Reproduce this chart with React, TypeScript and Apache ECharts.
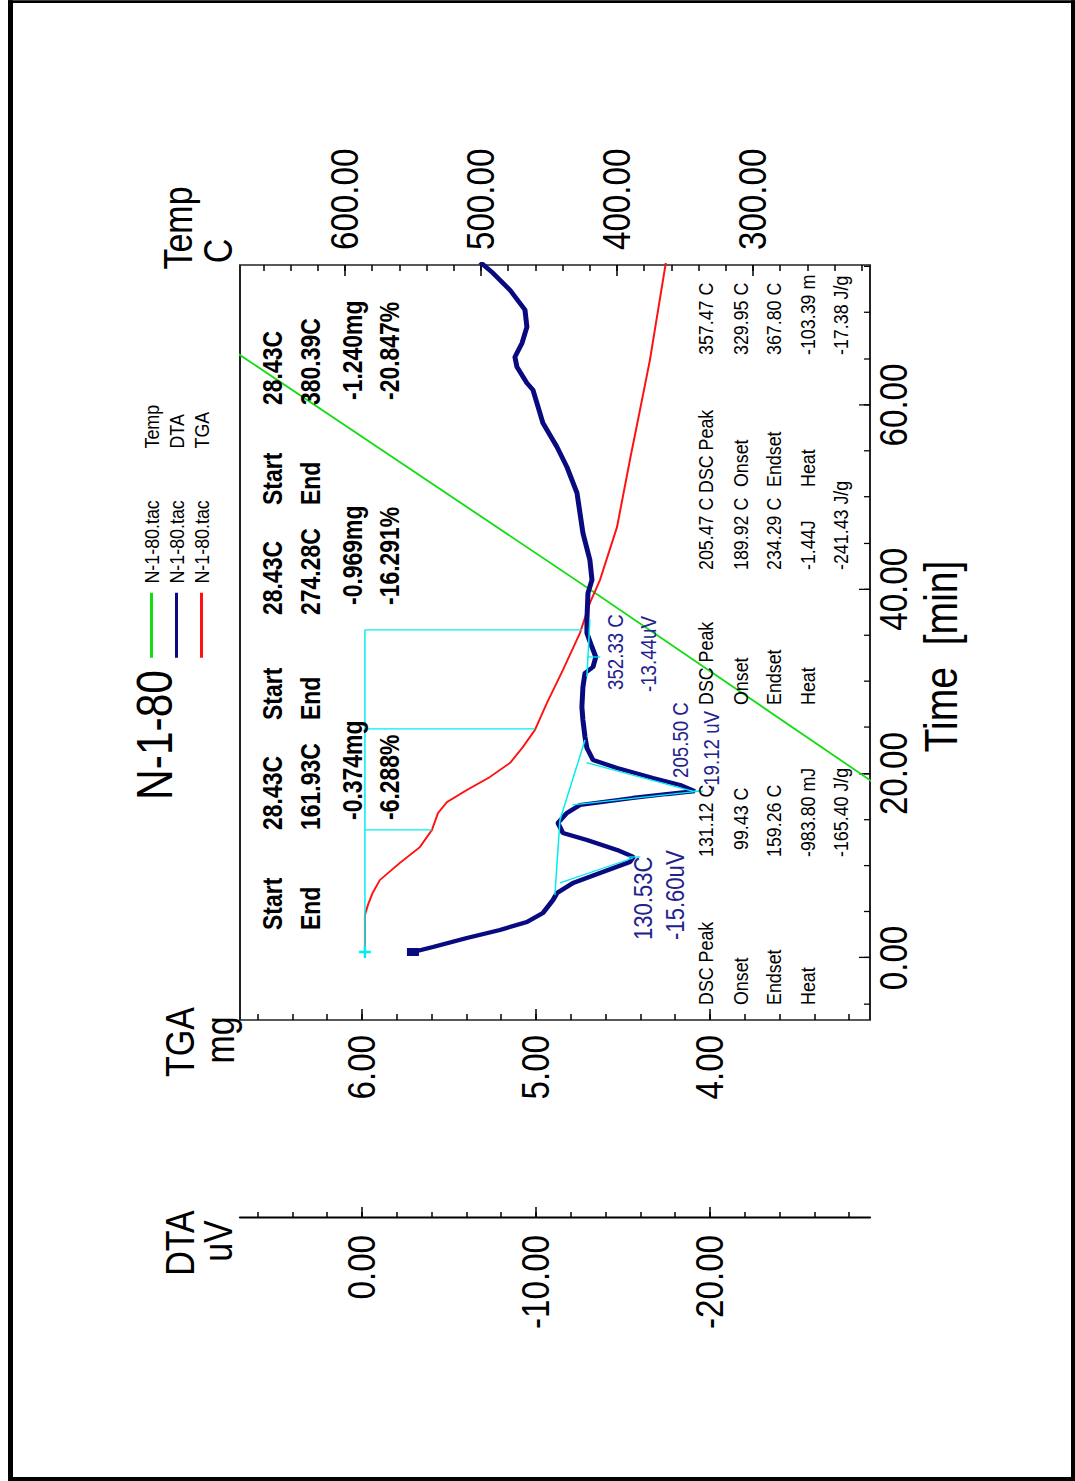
import React, { useEffect, useRef } from "react";
import * as echarts from "echarts";

// The printout is horizontally condensed: the chart is drawn wider and squeezed by S.
const S = 0.85;
const sx = (v: number) => v / S;
const FONT = "'Liberation Sans', Arial, sans-serif";

// ---- axes ----
const TIME_MIN = -6.73;
const TIME_MAX = 75.19;
const timeMajor = [0, 20, 40, 60];
const timeMinor = [-5, 0, 5, 10, 15, 20, 25, 30, 35, 40, 45, 50, 55, 60, 65, 70, 75];

const TGA_MIN = 3.08;
const TGA_MAX = 6.701;
const tgaMajor = [4, 5, 6];
const tgaMinor = [3.2, 3.4, 3.6, 3.8, 4.0, 4.2, 4.4, 4.6, 4.8, 5.0, 5.2, 5.4, 5.6, 5.8, 6.0, 6.2, 6.4, 6.6];

const DTA_MIN = -29.2;
const DTA_MAX = 7.01;
const dtaMajor = [-20, -10, 0];
const dtaMinor = [-28, -26, -24, -22, -20, -18, -16, -14, -12, -10, -8, -6, -4, -2, 0, 2, 4, 6];

const TEMP_MIN = 213.97;
const TEMP_MAX = 677.2;
const tempMajor = [300, 400, 500, 600];
const tempMinor = [220, 240, 260, 280, 300, 320, 340, 360, 380, 400, 420, 440, 460, 480, 500, 520, 540, 560, 580, 600, 620, 640, 660];

// ---- series (time [min], value) ----
const tempPoints = [[0, 20], [19.3, 214], [40, 420], [65.4, 677], [76, 785]];

const dtaPoints = [
  [0.65, -2.93], [1.19, -4.08], [2.17, -6.03], [3.04, -7.93], [3.91, -9.48], [4.88, -10.4],
  [6.29, -10.98], [7.05, -11.21], [8.14, -12.13], [9.22, -13.68], [10.42, -15.4], [10.96, -15.6],
  [11.72, -14.66], [12.8, -12.93], [13.56, -11.55], [14.65, -11.26], [15.73, -11.78], [16.6, -12.53],
  [17.36, -15.57], [17.79, -17.53], [18.1, -19.12], [18.77, -18.28], [19.53, -16.72], [20.61, -14.66],
  [21.48, -13.28], [22.78, -12.93], [23.98, -12.82], [25.82, -12.7], [27.23, -12.64], [29.4, -12.7],
  [30.92, -12.82], [31.57, -13.28], [32.66, -13.44], [33.74, -13.22], [35.26, -12.93], [36.67, -12.93],
  [39.6, -12.99], [41.01, -13.22], [43.18, -13.1], [46.11, -12.7], [50.45, -12.36], [53.27, -11.78],
  [55.44, -11.21], [58.04, -10.4], [61.62, -9.83], [62.38, -9.48], [64.12, -8.91], [65.21, -8.79],
  [66.72, -9.2], [68.46, -9.48], [70.31, -9.37], [72.47, -8.51], [74.32, -7.53], [75.5, -6.8],
];

const tgaPoints = [
  [0.65, 5.983], [4.67, 5.983], [5.75, 5.966], [7.0, 5.94], [8.46, 5.897], [10.31, 5.782],
  [12.04, 5.667], [13.89, 5.598], [15.73, 5.563], [16.93, 5.511], [18.23, 5.397], [19.64, 5.264],
  [21.16, 5.149], [22.89, 5.075], [24.74, 5.006], [27.67, 4.937], [31.25, 4.845], [35.26, 4.747],
  [38.52, 4.69], [41.01, 4.632], [46.76, 4.534], [54.03, 4.46], [59.46, 4.402], [64.88, 4.345],
  [75.5, 4.253],
];

// cyan analysis lines
const tgaBaseLine = [[0.65, 5.983], [35.6, 5.983]];
const tgaStep1 = [[13.9, 5.983], [13.9, 5.598]];
const tgaStep2 = [[24.85, 5.983], [24.85, 5.006]];
const tgaStep3 = [[35.6, 5.983], [35.6, 4.735]];

const peak1Base = [[6.84, -11.09], [14.97, -11.38]];
const peak1Onset = [[8.14, -11.38], [10.85, -15.57]];
const peak1Mark = [[10.96, -15.3], [10.96, -16.0]];
const peak2Base = [[14.97, -11.38], [23.65, -12.82]];
const peak2Onset = [[16.6, -12.1], [18.1, -19.4]];
const peak2End = [[21.2, -12.9], [18.1, -19.0]];
const peak2Mark = [[18.1, -18.9], [18.1, -19.6]];
const peak3Base = [[30.5, -12.93], [36.7, -13.1]];
const peak3Mark = [[32.66, -12.93], [32.66, -13.7]];

// ---- annotation texts [text, x, y] ----
const tgaTableTexts: [string, number, number][] = [
  ["Start", 551, 272], ["End", 551, 310],
  ["28.43C", 651, 272], ["161.93C", 651, 310], ["-0.374mg", 661, 352], ["-6.288%", 661, 389],
  ["Start", 761, 272], ["End", 761, 310],
  ["28.43C", 866, 272], ["274.28C", 866, 310], ["-0.969mg", 876, 352], ["-16.291%", 876, 389],
  ["Start", 976, 272], ["End", 976, 310],
  ["28.43C", 1076, 272], ["380.39C", 1076, 310], ["-1.240mg", 1081, 352], ["-20.847%", 1081, 389],
];

const dscTableTexts: [string, number, number][] = [
  ["DSC Peak", 476, 705], ["Onset", 476, 740], ["Endset", 476, 773], ["Heat", 476, 807],
  ["131.12 C", 624, 705], ["99.43 C", 631, 740], ["159.26 C", 624, 773], ["-983.80 mJ", 624, 807], ["-165.40 J/g", 624, 840],
  ["DSC Peak", 776, 705], ["Onset", 776, 740], ["Endset", 776, 773], ["Heat", 776, 807],
  ["205.47 C", 911, 705], ["189.92 C", 911, 740], ["234.29 C", 911, 773], ["-1.44J", 911, 807], ["-241.43 J/g", 911, 840],
  ["DSC Peak", 988, 705], ["Onset", 994, 740], ["Endset", 994, 773], ["Heat", 994, 807],
  ["357.47 C", 1126, 705], ["329.95 C", 1126, 740], ["367.80 C", 1126, 773], ["-103.39 m", 1126, 807], ["-17.38 J/g", 1126, 840],
];

const peakTexts: [string, number, number, number][] = [
  ["130.53C", 541, 643, 26], ["-15.60uV", 541, 675, 26],
  ["205.50 C", 703, 680, 22], ["-19.12 uV", 689, 711, 22],
  ["352.33 C", 791, 615, 22], ["-13.44uV", 789, 648, 22],
];

const fmt2 = (v: number) => v.toFixed(2);

function txt(text: string, x: number, y: number, size: number, opts: any = {}) {
  return {
    type: "text",
    x: sx(x),
    y,
    z: 50,
    silent: true,
    style: {
      text,
      fill: opts.fill || "#000",
      fontSize: size,
      fontFamily: FONT,
      fontWeight: opts.bold ? "bold" : "normal",
      align: opts.align || "left",
      verticalAlign: "middle",
      textAlign: opts.align || "left",
      textVerticalAlign: "middle",
    },
  };
}

function cyan(data: any[], yAxisIndex: number) {
  return {
    type: "line",
    xAxisIndex: 0,
    yAxisIndex,
    data,
    showSymbol: true,
    symbol: "none",
    silent: true,
    lineStyle: { color: "#00eeee", width: 1.5 },
    itemStyle: { color: "#00eeee" },
    z: 4,
  };
}

function yAx(min: number, max: number, position: string, offset: number, major: number[], minor: number[] | null, showLine: boolean, margin: number) {
  if (minor) {
    return {
      type: "value", min, max, position, offset: sx(offset), gridIndex: 0,
      axisLine: { show: false, onZero: false },
      splitLine: { show: false },
      axisLabel: { show: false },
      axisTick: { show: true, inside: true, length: sx(6), customValues: minor, lineStyle: { color: "#000", width: 1.5 } },
    };
  }
  return {
    type: "value", min, max, position, offset: sx(offset), gridIndex: 0,
    axisLine: { show: showLine, onZero: false, lineStyle: { color: "#000", width: 2.2 } },
    splitLine: { show: false },
    axisTick: { show: true, inside: true, length: sx(11), customValues: major, lineStyle: { color: "#000", width: 1.5 } },
    axisLabel: {
      customValues: major, formatter: fmt2, margin: sx(margin),
      fontSize: 39, fontFamily: FONT, color: "#000",
    },
  };
}

export default function App() {
  const ref = useRef<HTMLDivElement>(null);
  useEffect(() => {
    if (!ref.current) return;
    const chart = echarts.init(ref.current, null, { renderer: "svg" });
    const option: any = {
      animation: false,
      backgroundColor: "#fff",
      grid: {
        left: sx(461), top: 240, width: sx(755), height: 630,
        show: true, borderColor: "#222", borderWidth: 2, backgroundColor: "transparent",
        containLabel: false, outerBoundsMode: "none",
      },
      legend: {
        orient: "vertical", left: sx(819), top: 134, itemWidth: sx(65), itemHeight: 3, itemGap: 0,
        icon: "rect", selectedMode: false,
        data: ["Temp", "DTA", "TGA"],
        formatter: (name: string) => `{a|N-1-80.tac}{b|${name}}`,
        textStyle: {
          color: "#000", fontFamily: FONT, fontSize: 21, lineHeight: 25,
          rich: {
            a: { fontFamily: FONT, fontSize: 21, width: sx(135), padding: [0, 0, 0, sx(5)], color: "#000" },
            b: { fontFamily: FONT, fontSize: 21, color: "#000" },
          },
        },
      },
      xAxis: [
        {
          type: "value", min: TIME_MIN, max: TIME_MAX, position: "bottom", gridIndex: 0,
          axisLine: { show: false, onZero: false },
          splitLine: { show: false },
          axisTick: { show: true, inside: true, length: 11, customValues: timeMajor, lineStyle: { color: "#000", width: 1.5 } },
          axisLabel: { customValues: timeMajor, formatter: fmt2, margin: 4, fontSize: 39, fontFamily: FONT, color: "#000" },
          name: "Time  [min]", nameLocation: "middle", nameGap: 40,
          nameTextStyle: { fontSize: 46, fontFamily: FONT, color: "#000", padding: [0, sx(28), 0, 0] },
        },
        {
          type: "value", min: TIME_MIN, max: TIME_MAX, position: "bottom", gridIndex: 0,
          axisLine: { show: false, onZero: false },
          splitLine: { show: false },
          axisLabel: { show: false },
          axisTick: { show: true, inside: true, length: 6, customValues: timeMinor, lineStyle: { color: "#000", width: 1.5 } },
        },
      ],
      yAxis: [
        yAx(TGA_MIN, TGA_MAX, "left", 0, tgaMajor, null, false, 15),
        yAx(DTA_MIN, DTA_MAX, "left", 198, dtaMajor, null, true, 17),
        yAx(TEMP_MIN, TEMP_MAX, "right", 0, tempMajor, null, false, 15),
        yAx(TGA_MIN, TGA_MAX, "left", 0, [], tgaMinor, false, 0),
        yAx(DTA_MIN, DTA_MAX, "left", 198, [], dtaMinor, false, 0),
        yAx(TEMP_MIN, TEMP_MAX, "right", 0, [], tempMinor, false, 0),
      ],
      series: [
        {
          name: "Temp", type: "line", xAxisIndex: 0, yAxisIndex: 2, data: tempPoints,
          showSymbol: false, lineStyle: { color: "#11dd11", width: 2 }, itemStyle: { color: "#11dd11" }, z: 2,
        },
        {
          name: "TGA", type: "line", xAxisIndex: 0, yAxisIndex: 0, data: tgaPoints,
          showSymbol: false, lineStyle: { color: "#ff1111", width: 2 }, itemStyle: { color: "#ff1111" }, z: 3,
        },
        {
          name: "DTA", type: "line", xAxisIndex: 0, yAxisIndex: 1,
          data: dtaPoints.map((p, i) => (i === 0 ? { value: p, symbol: "rect", symbolSize: [sx(8), 12] } : { value: p, symbol: "none" })),
          showSymbol: true, symbol: "none",
          lineStyle: { color: "#0a0a80", width: 5 }, itemStyle: { color: "#0a0a80" }, z: 3,
        },
        cyan(
          tgaBaseLine.map((p, i) =>
            i === 0
              ? { value: p, symbol: "path://M4,0H6V4H10V6H6V10H4V6H0V4H4Z", symbolSize: [sx(12), 12] }
              : { value: p, symbol: "none" }
          ),
          0
        ),
        cyan(tgaStep1, 0), cyan(tgaStep2, 0), cyan(tgaStep3, 0),
        cyan(peak1Base, 1), cyan(peak1Onset, 1), cyan(peak1Mark, 1),
        cyan(peak2Base, 1), cyan(peak2Onset, 1), cyan(peak2End, 1), cyan(peak2Mark, 1),
        cyan(peak3Base, 1), cyan(peak3Mark, 1),
      ],
      graphic: [
        // page frame
        { type: "rect", silent: true, shape: { x: 0, y: 8, width: sx(1481), height: 5 }, style: { fill: "#000" } },
        { type: "rect", silent: true, shape: { x: 0, y: 1071, width: sx(1481), height: 4 }, style: { fill: "#000" } },
        { type: "rect", silent: true, shape: { x: 0, y: 8, width: sx(4), height: 1067 }, style: { fill: "#000" } },
        { type: "rect", silent: true, shape: { x: sx(1478), y: 8, width: sx(3), height: 1067 }, style: { fill: "#000" } },
        // title
        txt("N-1-80", 746, 155, 50, { align: "center" }),
        // axis titles
        txt("Temp", 1253, 178, 40, { align: "center" }),
        txt("C", 1230, 218, 40, { align: "center" }),
        txt("TGA", 439, 180, 40, { align: "center" }),
        txt("mg", 441, 220, 40, { align: "center" }),
        txt("DTA", 238, 180, 40, { align: "center" }),
        txt("uV", 240, 218, 40, { align: "center" }),
        ...tgaTableTexts.map(([t, x, y]) => txt(t, x, y, 27, { bold: true })),
        ...dscTableTexts.map(([t, x, y]) => txt(t, x, y, 21)),
        ...peakTexts.map(([t, x, y, s]) => txt(t, x, y, s, { fill: "#22228c" })),
      ],
    };
    chart.setOption(option);
    return () => chart.dispose();
  }, []);
  return (
    <div style={{ position: "fixed", left: 0, top: 0, width: 1075, height: 1481, overflow: "hidden", background: "#fff" }}>
      <div
        ref={ref}
        style={{
          position: "absolute", left: 0, top: 0, width: sx(1481), height: 1075,
          transformOrigin: "0 0", transform: `translateY(1481px) rotate(-90deg) scaleX(${S})`,
        }}
      />
    </div>
  );
}
